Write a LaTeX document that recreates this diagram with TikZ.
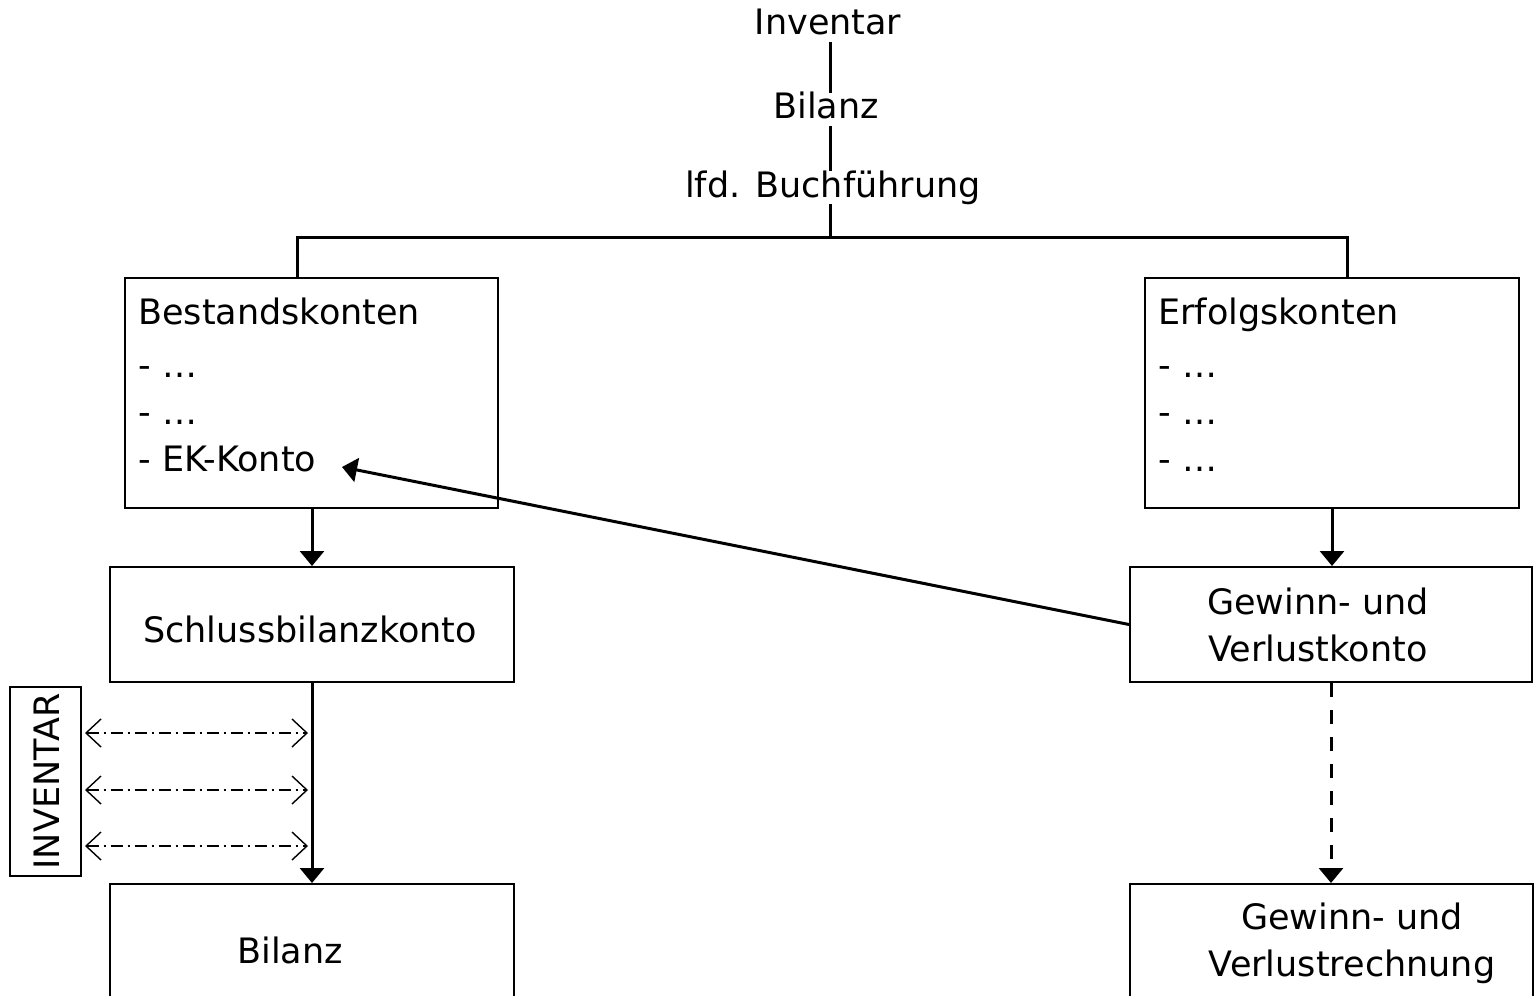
\documentclass[tikz,border=0pt]{standalone}
\usepackage{fontspec}
\setmainfont{DejaVu Sans}
\usetikzlibrary{arrows.meta,calc}
\begin{document}
\begin{tikzpicture}[x=0.5pt,y=-0.5pt,
  every node/.style={font=\fontsize{17.5pt}{23.5pt}\selectfont},
  lbl/.style={inner sep=0pt,text height=13pt,text depth=3.5pt,anchor=base},
  box/.style={draw,line width=1pt,inner sep=0pt},
  list/.style={align=left,inner sep=0pt,anchor=north west},
  conn/.style={line width=1.5pt},
  arr/.style={line width=1.5pt,-{Triangle[width=12pt,length=7.5pt]}},
  dashedarr/.style={arr,dash pattern=on 7pt off 6.5pt},
  dd/.style={line width=0.7pt,dash pattern=on 6pt off 2.5pt on 1pt off 2.5pt,
     {Straight Barb[length=7.5pt,width=14pt]}-{Straight Barb[length=7.5pt,width=14pt]}}]
\useasboundingbox (0,0) rectangle (1534,995);
\clip (0,0) rectangle (1534,995);
% top chain
\node[lbl] (inv) at (828,35) {Inventar};
\node[lbl] (bil) at (826,119) {Bilanz};
\node[lbl] (lfd) at (833,197) {lfd. Buchführung};
\coordinate (bus) at (830,237);
\draw[conn] (inv.south -| bus) -- (bil.north -| bus);
\draw[conn] (bil.south -| bus) -- (lfd.north -| bus);
\draw[conn] (lfd.south -| bus) -- (bus);
% boxes
\node[box,minimum width=186.5pt,minimum height=115pt] (bk) at (311.5,393) {};
\node[list] (bkt) at (138,298) {Bestandskonten\\[3pt]- …\\- …\\- EK-Konto};
\node[box,minimum width=187pt,minimum height=115pt] (ek) at (1332,393) {};
\node[list] (ekt) at (1158,298) {Erfolgskonten\\[3pt]- …\\- …\\- …};
\draw[conn] ([xshift=-7.25pt]bk.north) |- (bus) -| ([xshift=7.5pt]ek.north);
\node[box,minimum width=202pt,minimum height=57.5pt] (sbk) at (312,624.5) {};
\node (sbkt) at (310,629) {Schlussbilanzkonto};
\node[box,minimum width=201pt,minimum height=57.5pt] (guv) at (1331,624.5) {};
\node[align=center,inner sep=0pt] (guvt) at (1318,625) {Gewinn- und\\Verlustkonto};
\node[box,minimum width=202pt,minimum height=70pt] (bilb) at (312,954) {};
\node (bilt) at (290,950) {Bilanz};
\node[box,minimum width=201.5pt,minimum height=70pt] (guvr) at (1331.5,954) {};
\node[align=center,inner sep=0pt] (guvrt) at (1352,943) {Gewinn- und\\Verlustrechnung};
\node[box,minimum width=35.5pt,minimum height=94.5pt] (invbox) at (45.5,781.5) {};
\node[rotate=90,inner sep=0pt] (invt) at (47,781.5) {INVENTAR};
% arrows
\draw[arr] (bk.south -| sbk) -- (sbk.north);
\draw[arr] (ek.south) -- (ek.south |- guv.north);
\draw[arr] (sbk.south) -- (bilb.north);
\draw[dashedarr] (guv.south) -- (guv.south |- guvr.north);
\coordinate (ektip) at (342,467);
\draw[arr] (guv.west) -- (ektip);
\foreach \yy in {733,790,846}{
  \draw[dd] ([xshift=1.5pt]invbox.east |- 0,\yy) -- ([xshift=-2pt]sbk.south |- 0,\yy);
}
\end{tikzpicture}
\end{document}
